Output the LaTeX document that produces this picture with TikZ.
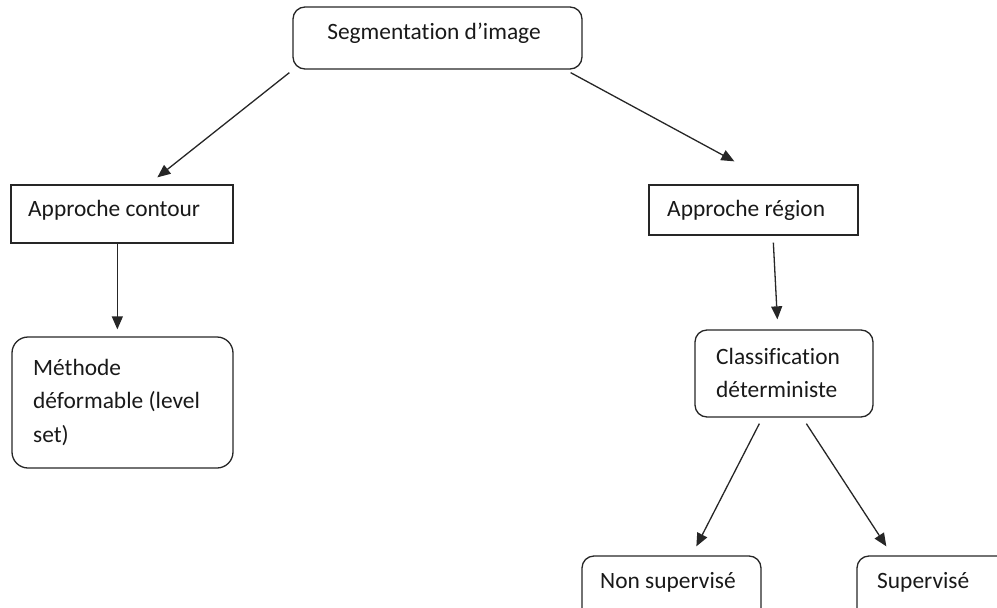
\documentclass[tikz,border=0pt]{standalone}
\usepackage{fontspec}
\setmainfont{Carlito}[Ligatures=NoCommon]
\usetikzlibrary{arrows.meta,calc}
\begin{document}
\begin{tikzpicture}[x=1pt,y=-1pt,
  box/.style={draw=black!85, line width=1.3pt, inner sep=0pt},
  rbox/.style={box, rounded corners=12pt},
  lbl/.style={inner sep=0pt, font=\fontsize{23.4}{33.5}\selectfont, text=black!90},
  arr/.style={-{Triangle[length=13pt,width=11pt]}, line width=1.3pt, black!85}]
\useasboundingbox (0,0) rectangle (997,608);
\clip (0,0) rectangle (997,608);
% boxes
\node[rbox, minimum width=289pt, minimum height=62pt] (seg) at (437.5,38) {};
\node[lbl] (segt) at (434,33) {Segmentation d’image};
\node[box, minimum width=222pt, minimum height=58pt] (contour) at (122,214) {};
\node[lbl, anchor=west] (contourt) at (28,210) {Approche contour};
\node[rbox, rounded corners=16pt, minimum width=221pt, minimum height=131pt] (meth) at (122.5,402.5) {};
\node[lbl, anchor=west, align=left] (metht) at (33,402) {Méthode\\déformable (level\\set)};
\node[box, minimum width=209pt, minimum height=50pt] (region) at (753.5,210) {};
\node[lbl, anchor=west] (regiont) at (667,210) {Approche région};
\node[rbox, minimum width=178pt, minimum height=87pt] (classif) at (784,373.5) {};
\node[lbl, anchor=west, align=left] (classift) at (716,373) {Classification\\déterministe};
\node[rbox, minimum width=179pt, minimum height=64pt] (nonsup) at (671.5,588) {};
\node[lbl, anchor=west] (nonsupt) at (600,582) {Non supervisé};
\node[rbox, minimum width=153pt, minimum height=64pt] (sup) at (933.5,588) {};
\node[lbl, anchor=west] (supt) at (877,582) {Supervisé};
% connectors
\draw[arr] ($(seg.south west)+(-3,3)$) -- ($(contour.north west)+(147,-7)$);
\draw[arr] ($(seg.south east)+(-12,3)$) -- ($(region.north west)+(86,-23)$);
\draw[arr] ($(contour.south west)+(107,0)$) -- ($(meth.north west)+(106,-7)$);
\draw[arr] ($(region.south west)+(125,7)$) -- ($(classif.north west)+(83,-10)$);
\draw[arr] ($(classif.south west)+(65,6)$) -- ($(nonsup.north west)+(115,-9)$);
\draw[arr] ($(classif.south west)+(112,6)$) -- ($(sup.north west)+(30,-9)$);
\end{tikzpicture}
\end{document}
